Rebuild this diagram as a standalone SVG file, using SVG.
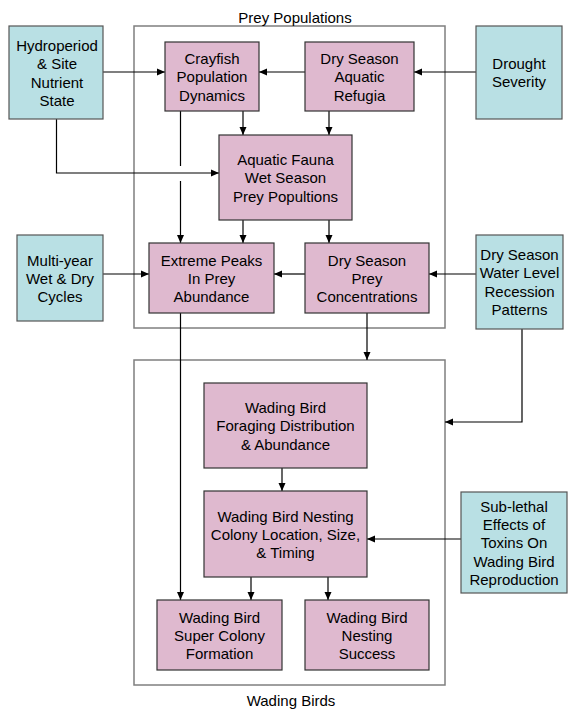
<svg xmlns="http://www.w3.org/2000/svg" width="568" height="709" viewBox="0 0 568 709">
<defs>
<marker id="arr" viewBox="0 0 8 8" refX="8" refY="4" markerWidth="8" markerHeight="8" markerUnits="userSpaceOnUse" orient="auto">
<path d="M0,0.5 L8,4 L0,7.5 Z" fill="#000"/>
</marker>
</defs>
<style>
.grp{fill:none;stroke:#7f7f7f;stroke-width:1.5}
.pink{fill:#dfb9cf;stroke:#333;stroke-width:1.2}
.teal{fill:#b9e0e4;stroke:#555;stroke-width:1.2}
text{font-family:"Liberation Sans",Arial,sans-serif;font-size:15px;fill:#000;text-anchor:middle}
.c{fill:none;stroke:#000;stroke-width:1.2;marker-end:url(#arr)}
</style>
<rect width="568" height="709" fill="#fff"/>
<g id="prey-populations">
<rect class="grp" x="134" y="26" width="311" height="302"/>
<text x="295" y="22.5">Prey Populations</text>
</g>
<g id="wading-birds">
<rect class="grp" x="134" y="360" width="311" height="325"/>
<text x="291" y="706">Wading Birds</text>
</g>
<g id="connectors">
<path class="c" d="M103,72 H165"/>
<path class="c" d="M305,72 H259"/>
<path class="c" d="M476,72 H414"/>
<path class="c" d="M56.5,119 V173 H219"/>
<path class="c" d="M243,111 V135"/>
<path class="c" d="M329,111 V135"/>
<path class="c" d="M180.5,111 V166 M180.5,181 V243"/>
<path class="c" d="M243,220 V243"/>
<path class="c" d="M329,220 V243"/>
<path class="c" d="M103,274 H149"/>
<path class="c" d="M305,274 H274"/>
<path class="c" d="M476,274 H429"/>
<path class="c" d="M367,313 V360"/>
<path class="c" d="M522,329 V422 H445"/>
<path class="c" d="M180.5,313 V600"/>
<path class="c" d="M282,468 V491"/>
<path class="c" d="M461,539 H367"/>
<path class="c" d="M251,577 V600"/>
<path class="c" d="M328,577 V600"/>
</g>
<g id="hydroperiod">
<rect class="teal" x="9" y="26" width="94" height="93"/>
<text x="57" y="51">Hydroperiod</text>
<text x="57" y="69.3">&amp; Site</text>
<text x="57" y="87.6">Nutrient</text>
<text x="57" y="105.9">State</text>
</g>
<g id="crayfish">
<rect class="pink" x="165" y="42" width="94" height="69"/>
<text x="212" y="64">Crayfish</text>
<text x="212" y="82.3">Population</text>
<text x="212" y="100.6">Dynamics</text>
</g>
<g id="refugia">
<rect class="pink" x="305" y="42" width="109" height="69"/>
<text x="359.5" y="64">Dry Season</text>
<text x="359.5" y="82.3">Aquatic</text>
<text x="359.5" y="100.6">Refugia</text>
</g>
<g id="drought">
<rect class="teal" x="476" y="26" width="86" height="93"/>
<text x="519" y="69">Drought</text>
<text x="519" y="87.3">Severity</text>
</g>
<g id="aquatic-fauna">
<rect class="pink" x="219" y="135" width="133" height="85"/>
<text x="285.5" y="165">Aquatic Fauna</text>
<text x="285.5" y="183.3">Wet Season</text>
<text x="285.5" y="201.6">Prey Popultions</text>
</g>
<g id="multi-year">
<rect class="teal" x="17" y="235" width="86" height="86"/>
<text x="60" y="265.5">Multi-year</text>
<text x="60" y="283.8">Wet &amp; Dry</text>
<text x="60" y="302.1">Cycles</text>
</g>
<g id="extreme-peaks">
<rect class="pink" x="149" y="243" width="125" height="70"/>
<text x="211.5" y="265.5">Extreme Peaks</text>
<text x="211.5" y="283.8">In Prey</text>
<text x="211.5" y="302.1">Abundance</text>
</g>
<g id="prey-concentrations">
<rect class="pink" x="305" y="243" width="124" height="70"/>
<text x="367" y="265.5">Dry Season</text>
<text x="367" y="283.8">Prey</text>
<text x="367" y="302.1">Concentrations</text>
</g>
<g id="water-level">
<rect class="teal" x="476" y="235" width="87" height="94"/>
<text x="519.5" y="260">Dry Season</text>
<text x="519.5" y="278.3">Water Level</text>
<text x="519.5" y="296.6">Recession</text>
<text x="519.5" y="314.9">Patterns</text>
</g>
<g id="foraging">
<rect class="pink" x="204" y="383" width="163" height="85"/>
<text x="285.5" y="413">Wading Bird</text>
<text x="285.5" y="431.3">Foraging Distribution</text>
<text x="285.5" y="449.6">&amp; Abundance</text>
</g>
<g id="nesting-colony">
<rect class="pink" x="204" y="491" width="163" height="86"/>
<text x="285.5" y="521.5">Wading Bird Nesting</text>
<text x="285.5" y="539.8">Colony Location, Size,</text>
<text x="285.5" y="558.1">&amp; Timing</text>
</g>
<g id="sub-lethal">
<rect class="teal" x="461" y="492" width="106" height="101"/>
<text x="514" y="511.8">Sub-lethal</text>
<text x="514" y="530.1">Effects of</text>
<text x="514" y="548.4">Toxins On</text>
<text x="514" y="566.7">Wading Bird</text>
<text x="514" y="585">Reproduction</text>
</g>
<g id="super-colony">
<rect class="pink" x="157" y="600" width="125" height="70"/>
<text x="219.5" y="622.5">Wading Bird</text>
<text x="219.5" y="640.8">Super Colony</text>
<text x="219.5" y="659.1">Formation</text>
</g>
<g id="nesting-success">
<rect class="pink" x="305" y="600" width="124" height="70"/>
<text x="367" y="622.5">Wading Bird</text>
<text x="367" y="640.8">Nesting</text>
<text x="367" y="659.1">Success</text>
</g>
</svg>
